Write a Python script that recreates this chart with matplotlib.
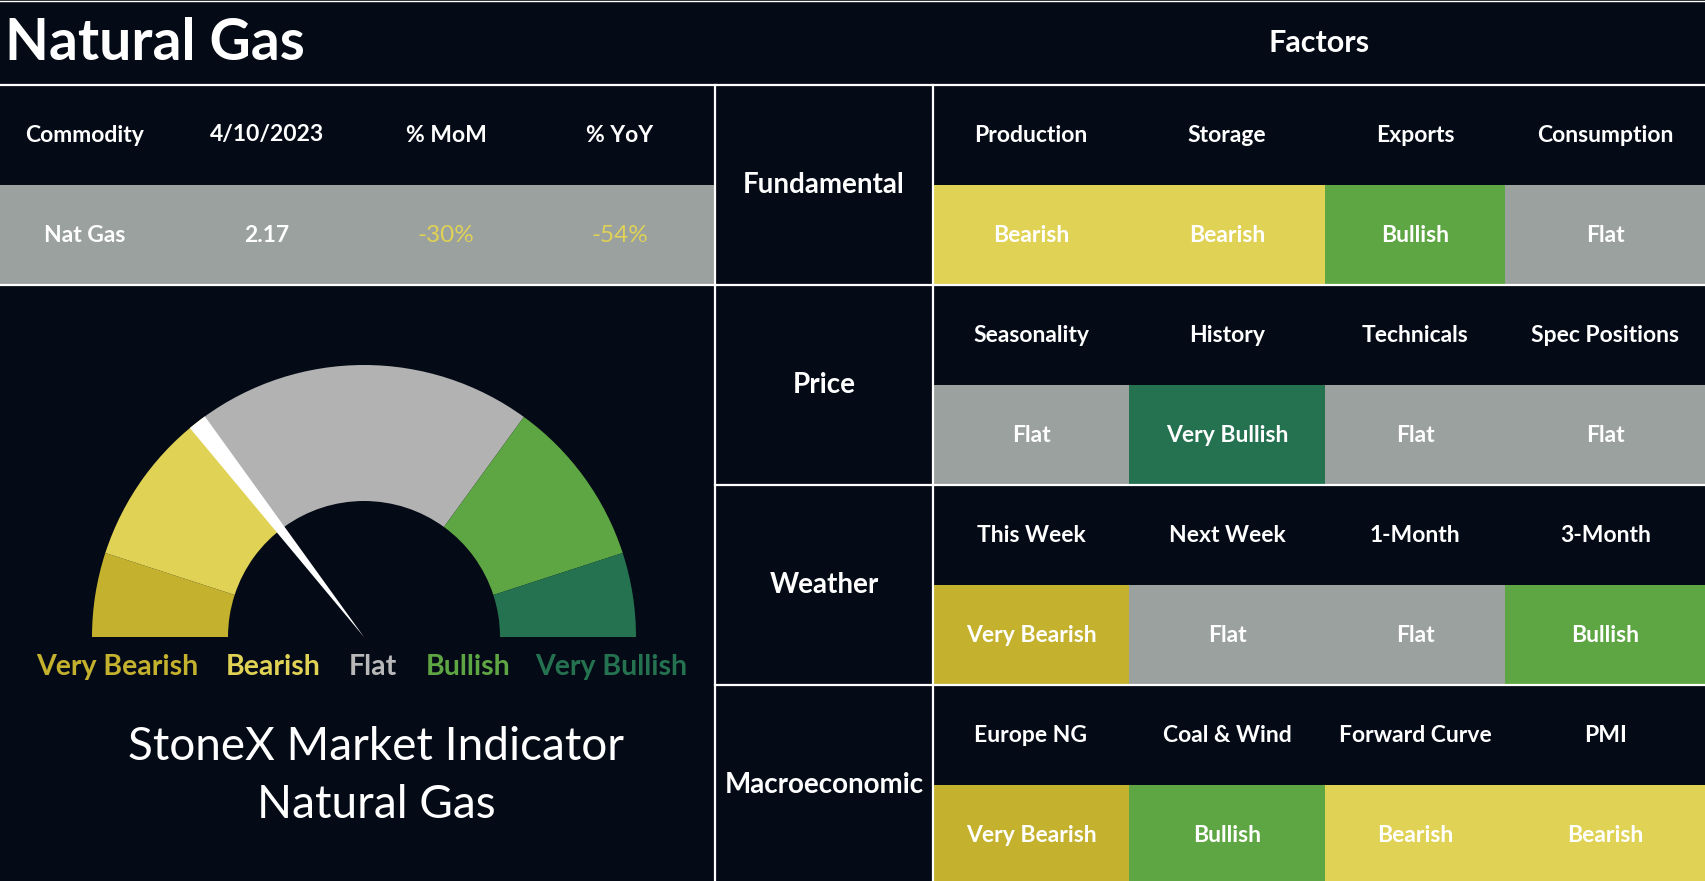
import matplotlib
matplotlib.use('Agg')
import matplotlib.pyplot as plt
from matplotlib.patches import Rectangle, Wedge

# --- data --- #
title = 'Natural Gas'
commodity_header = ['Commodity', '4/10/2023', '% MoM', '% YoY']
commodity_row = ['Nat Gas', '2.17', '-30%', '-54%']

factor_groups = ['Fundamental', 'Price', 'Weather', 'Macroeconomic']
factor_names = [
    ['Production', 'Storage', 'Exports', 'Consumption'],
    ['Seasonality', 'History', 'Technicals', 'Spec Positions'],
    ['This Week', 'Next Week', '1-Month', '3-Month'],
    ['Europe NG', 'Coal & Wind', 'Forward Curve', 'PMI'],
]
factor_signals = [
    ['Bearish', 'Bearish', 'Bullish', 'Flat'],
    ['Flat', 'Very Bullish', 'Flat', 'Flat'],
    ['Very Bearish', 'Flat', 'Flat', 'Bullish'],
    ['Very Bearish', 'Bullish', 'Bearish', 'Bearish'],
]

gauge_levels = ['Very Bearish', 'Bearish', 'Flat', 'Bullish', 'Very Bullish']
gauge_spans = [1, 2, 4, 2, 1]
needle_value = 2.9

# --- styling --- #
bg = '#050b16'
cell_colors = {'Very Bearish': '#c4b12e', 'Bearish': '#e0d255', 'Flat': '#9aa19f',
               'Bullish': '#5ea543', 'Very Bullish': '#257250'}
gauge_colors = {'Very Bearish': '#c4b12e', 'Bearish': '#e0d255', 'Flat': '#b2b2b2',
                'Bullish': '#5ea543', 'Very Bullish': '#257250'}
label_colors = {'Very Bearish': '#c4b12e', 'Bearish': '#e0d255', 'Flat': '#b8b8b8',
                'Bullish': '#5ea543', 'Very Bullish': '#257250'}
value_colors = ['white', 'white', '#e0d255', '#e0d255']

plt.rcParams['font.family'] = ['Lato', 'DejaVu Sans']

W, H = 1706, 881
fig = plt.figure(figsize=(W / 100, H / 100), dpi=100, facecolor=bg)
ax = fig.add_axes([0, 0, 1, 1])
ax.set_xlim(0, W)
ax.set_ylim(H, 0)
ax.axis('off')
ax.set_facecolor(bg)

# layout (pixels)
split_x = 715
group_x = 933
col_edges = [933, 1129, 1325, 1505, 1706]
row_top = 85
row_h = 100
left_cols = [85, 267, 446, 620]
cell_fs = 16.5

# title
ax.text(5, 44, title, color='white', fontsize=41, fontweight='bold', va='center', ha='left')
ax.text((group_x + W) / 2, 43, 'Factors', color='white', fontsize=22, fontweight='bold',
        va='center', ha='center')

# commodity table
ax.add_patch(Rectangle((0, row_top + row_h), split_x, row_h, color='#9aa19f', lw=0))
for i in range(len(commodity_header)):
    ax.text(left_cols[i], row_top + row_h / 2, commodity_header[i], color='white',
            fontsize=cell_fs, fontweight='bold', ha='center', va='center')
    ax.text(left_cols[i], row_top + 1.5 * row_h, commodity_row[i], color=value_colors[i],
            fontsize=cell_fs if i < 2 else 17.5, fontweight='bold' if i < 2 else 'normal',
            ha='center', va='center')

# factor tables
for g in range(len(factor_groups)):
    top = row_top + g * 2 * row_h
    ax.text((split_x + group_x) / 2, top + row_h, factor_groups[g], color='white',
            fontsize=20, fontweight='bold', ha='center', va='center')
    for c in range(4):
        x0, x1 = col_edges[c], col_edges[c + 1]
        sig = factor_signals[g][c]
        ax.add_patch(Rectangle((x0, top + row_h), x1 - x0, row_h, color=cell_colors[sig], lw=0))
        ax.text((x0 + x1) / 2, top + row_h / 2, factor_names[g][c], color='white',
                fontsize=cell_fs, fontweight='bold', ha='center', va='center')
        ax.text((x0 + x1) / 2, top + 1.5 * row_h, sig, color='white',
                fontsize=cell_fs, fontweight='bold', ha='center', va='center')

# grid lines
lw = 1.6
ax.plot([0, W], [1, 1], color='white', lw=1)
ax.plot([0, W], [row_top, row_top], color='white', lw=lw)
ax.plot([0, split_x], [row_top + 2 * row_h] * 2, color='white', lw=lw)
for g in range(1, 4):
    y = row_top + g * 2 * row_h
    ax.plot([split_x, W], [y, y], color='white', lw=lw)
ax.plot([split_x, split_x], [row_top, H], color='white', lw=lw)
ax.plot([group_x, group_x], [row_top, H], color='white', lw=lw)

# --- gauge --- #
cx, cy = 364, 637
r_out, r_in = 272, 136
gx = fig.add_axes([(cx - 300) / W, (H - cy - 20) / H, 600 / W, 320 / H])
gx.set_xlim(-300, 300)
gx.set_ylim(-20, 300)
gx.axis('off')
total = sum(gauge_spans)
start = 180.0
for lvl, span in zip(gauge_levels, gauge_spans):
    end = start - 180.0 * span / total
    gx.add_patch(Wedge((0, 0), r_out, end, start, width=r_out - r_in,
                       facecolor=gauge_colors[lvl], edgecolor='none'))
    start = end
needle_angle = 180.0 - 180.0 * needle_value / total
gx.add_patch(Wedge((0, 0), r_out, needle_angle - 2, needle_angle + 2,
                   facecolor='white', edgecolor='none'))

label_x = [117, 273, 373, 468, 611]
for lvl, lx in zip(gauge_levels, label_x):
    ax.text(lx, 667, lvl, color=label_colors[lvl], fontsize=20.5, fontweight='bold',
            ha='center', va='center')

ax.text(376, 747, 'StoneX Market Indicator', color='white', fontsize=33, ha='center', va='center')
ax.text(376, 805, 'Natural Gas', color='white', fontsize=33, ha='center', va='center')

fig.savefig('out.png', dpi=100, facecolor=bg)
